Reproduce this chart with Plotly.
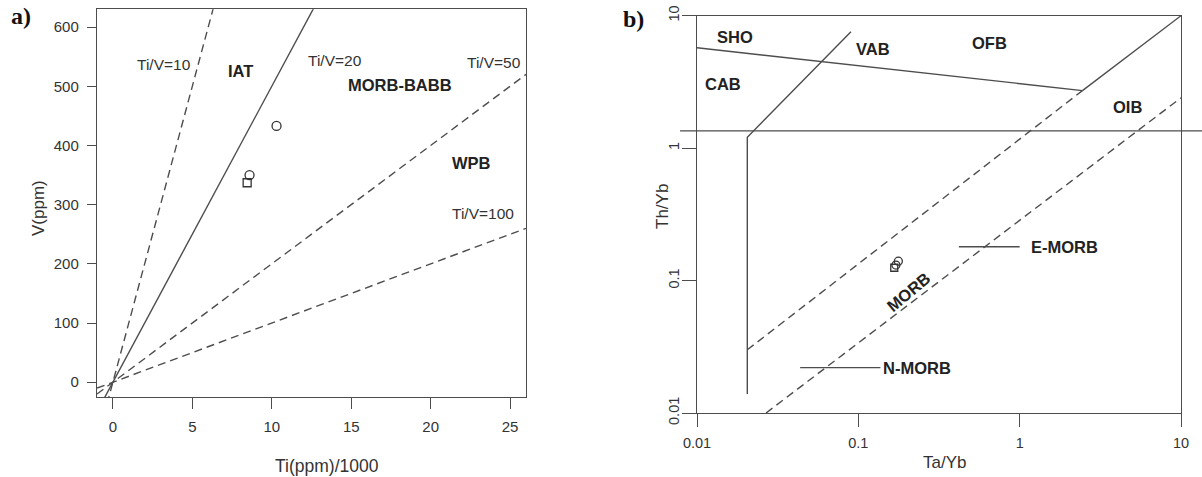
import numpy as np
import plotly.graph_objects as go

# ---------------- Panel a data (Ti/1000 vs V) ----------------
a_circle_ti = [10.3, 8.6]
a_circle_v = [433, 350]
a_square_ti = [8.45]
a_square_v = [337]

ti_v_ratios = [10, 20, 50, 100]
ti_v_labels = ["Ti/V=10", "Ti/V=20", "Ti/V=50", "Ti/V=100"]
ratio_line_ti = [-1, 26]          # Ti(ppm)/1000 extent of the ratio lines

a_xticks = [0, 5, 10, 15, 20, 25]
a_yticks = [0, 100, 200, 300, 400, 500, 600]

a_field_names = ["IAT", "MORB-BABB", "WPB"]

# ---------------- Panel b data (Ta/Yb vs Th/Yb) ----------------
b_circle_ta = [0.177, 0.171]
b_circle_th = [0.140, 0.131]
b_square_ta = [0.167]
b_square_th = [0.125]

sho_cab_ta = [0.01, 2.45]
sho_cab_th = [5.73, 2.72]
ofb_oib_ta = [2.45, 10.0]
ofb_oib_th = [2.72, 10.0]
vab_ta = [0.0205, 0.0205, 0.090]
vab_th = [0.0139, 1.21, 7.57]
morb_upper_ta = [0.0205, 2.45]
morb_upper_th = [0.030, 2.72]
morb_lower_ta = [0.0268, 10.0]
morb_lower_th = [0.010, 2.40]
emorb_ta = [0.42, 1.0]
emorb_th = [0.18, 0.18]
nmorb_ta = [0.0436, 0.137]
nmorb_th = [0.022, 0.022]
cab_limit_th = 1.35

b_ticks = [0.01, 0.1, 1, 10]
b_ticktext = ["0.01", "0.1", "1", "10"]

# ---------------- Figure ----------------
W, H = 1202, 477
def px(x):
    return x / W
def py(y):
    return 1 - y / H

LINE = "#4d4d4d"
TXT = "#333333"
DASH = "8px,5px"
FONT = "Liberation Sans, Arial, sans-serif"

fig = go.Figure()

# Panel a ratio lines
for r in ti_v_ratios:
    fig.add_trace(go.Scatter(
        x=ratio_line_ti, y=[t * 1000 / r for t in ratio_line_ti],
        mode="lines", xaxis="x", yaxis="y", hoverinfo="skip", showlegend=False,
        line=dict(color=LINE, width=1.4, dash="solid" if r == 20 else DASH)))

fig.add_trace(go.Scatter(x=a_circle_ti, y=a_circle_v, mode="markers", xaxis="x", yaxis="y",
                         showlegend=False,
                         marker=dict(symbol="circle-open", size=9, color="#333", line=dict(width=1.3))))
fig.add_trace(go.Scatter(x=a_square_ti, y=a_square_v, mode="markers", xaxis="x", yaxis="y",
                         showlegend=False,
                         marker=dict(symbol="square-open", size=8, color="#333", line=dict(width=1.3))))

# Panel b boundaries
def bline(xs, ys, dash="solid"):
    fig.add_trace(go.Scatter(x=xs, y=ys, mode="lines", xaxis="x2", yaxis="y2",
                             hoverinfo="skip", showlegend=False,
                             line=dict(color=LINE, width=1.4, dash=dash)))

bline(sho_cab_ta, sho_cab_th)
bline(ofb_oib_ta, ofb_oib_th)
bline(vab_ta, vab_th)
bline(morb_upper_ta, morb_upper_th, DASH)
bline(morb_lower_ta, morb_lower_th, DASH)
bline(emorb_ta, emorb_th)
bline(nmorb_ta, nmorb_th)

fig.add_trace(go.Scatter(x=b_circle_ta, y=b_circle_th, mode="markers", xaxis="x2", yaxis="y2",
                         showlegend=False,
                         marker=dict(symbol="circle-open", size=8, color="#333", line=dict(width=1.3))))
fig.add_trace(go.Scatter(x=b_square_ta, y=b_square_th, mode="markers", xaxis="x2", yaxis="y2",
                         showlegend=False,
                         marker=dict(symbol="square-open", size=7, color="#333", line=dict(width=1.3))))

shapes = [
    dict(type="line", xref="x2 domain", yref="y2", x0=-0.035, x1=1.05,
         y0=cab_limit_th, y1=cab_limit_th, line=dict(color=LINE, width=1.4)),
]

ann = []
def label(text, x, y, xref="x", yref="y", bold=False, size=14, xanchor="center", angle=0):
    ann.append(dict(text=("<b>%s</b>" % text) if bold else text, x=x, y=y, xref=xref, yref=yref,
                    showarrow=False, xanchor=xanchor, yanchor="middle", textangle=angle,
                    font=dict(family=FONT, size=size, color="#222" if bold else TXT)))

# panel a labels
ratio_label_pos = [(3.2, 537), (13.95, 543), (24.0, 540), (23.3, 285)]
for t, (x, y) in zip(ti_v_labels, ratio_label_pos):
    label(t, x, y, size=15.5)
field_pos = [(8.0, 525), (18.1, 502), (22.6, 370)]
for t, (x, y) in zip(a_field_names, field_pos):
    label(t, x, y, bold=True, size=16.5)

# panel b labels (log axes -> log10 positions)
lg = np.log10
b_fields = [("SHO", 0.0172, 6.95), ("VAB", 0.124, 5.57), ("OFB", 0.647, 6.19),
            ("CAB", 0.0145, 3.05), ("OIB", 4.68, 2.04)]
for t, x, y in b_fields:
    label(t, float(lg(x)), float(lg(y)), "x2", "y2", bold=True, size=16.5)
label("E-MORB", float(lg(1.15)), float(lg(0.18)), "x2", "y2", bold=True, size=16.5, xanchor="left")
label("N-MORB", float(lg(0.138)), float(lg(0.022)), "x2", "y2", bold=True, size=16.5, xanchor="left")
label("MORB", float(lg(0.204)), float(lg(0.0826)), "x2", "y2", bold=True, size=16.5, angle=-40)

# axis titles
label("Ti(ppm)/1000", px(327), py(466), "paper", "paper", size=17.5)
label("V(ppm)", px(38), py(208), "paper", "paper", size=17, angle=-90)
label("Ta/Yb", px(944), py(462), "paper", "paper", size=17)
label("Th/Yb", px(662), py(207), "paper", "paper", size=17, angle=-90)

# panel letters
for t, x, y in [("a)", 21, 16), ("b)", 633, 19)]:
    ann.append(dict(text="<b>%s</b>" % t, x=px(x), y=py(y), xref="paper", yref="paper",
                    showarrow=False, xanchor="center", yanchor="middle",
                    font=dict(family="Liberation Serif, Times New Roman, serif", size=24, color="#111")))

axis_common = dict(showgrid=False, zeroline=False, showline=True, linecolor=LINE, linewidth=1.4,
                   mirror=True, ticks="outside", tickcolor=LINE, tickwidth=1.4, automargin=False)

fig.update_layout(
    width=W, height=H, margin=dict(l=0, r=0, t=0, b=0, autoexpand=False),
    paper_bgcolor="white", plot_bgcolor="white", showlegend=False,
    xaxis=dict(domain=[px(97), px(526)], anchor="y", range=[-1, 26], tickvals=a_xticks,
               ticklen=11, ticklabelstandoff=5,
               tickfont=dict(family=FONT, size=15, color=TXT), **axis_common),
    yaxis=dict(domain=[py(397), py(9.3)], anchor="x", range=[-25, 630], tickvals=a_yticks,
               ticklen=9, ticklabelstandoff=5,
               tickfont=dict(family=FONT, size=15, color=TXT), **axis_common),
    xaxis2=dict(domain=[px(697), px(1181)], anchor="y2", type="log", range=[-2, 1],
                tickvals=b_ticks, ticktext=b_ticktext, ticklen=13, ticklabelstandoff=3,
                tickfont=dict(family=FONT, size=14.5, color=TXT), **axis_common),
    yaxis2=dict(domain=[py(413), py(15.7)], anchor="x2", type="log", range=[-2, 1],
                tickvals=b_ticks, ticktext=b_ticktext, tickangle=-90, ticklen=14,
                ticklabelstandoff=-3,
                tickfont=dict(family=FONT, size=14.5, color=TXT), **axis_common),
    shapes=shapes, annotations=ann,
)

fig.write_html("out.html", config={"displayModeBar": False},
               post_script="document.body.style.margin='0px';document.body.style.padding='0px';")
